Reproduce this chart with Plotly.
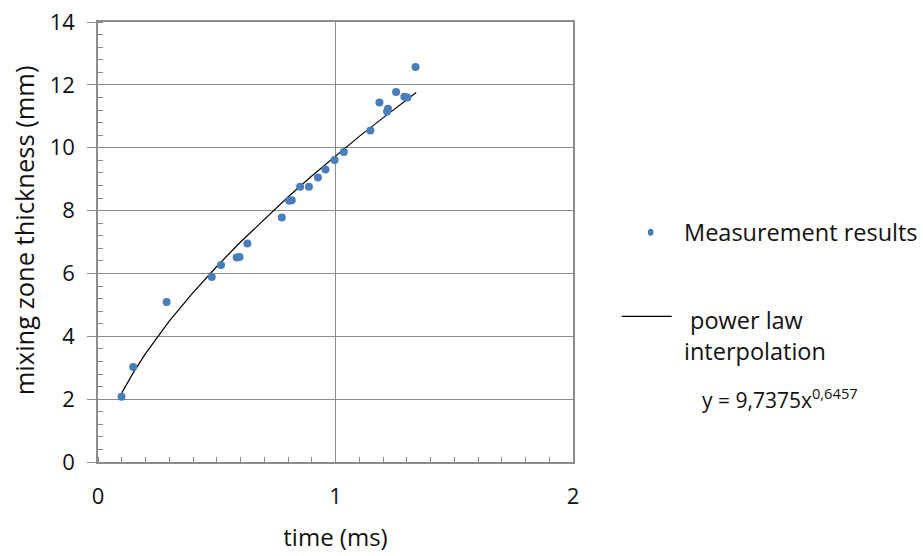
import plotly.graph_objects as go

# Measurement results (time in ms, mixing zone thickness in mm)
time_ms = [0.099, 0.148, 0.289, 0.479, 0.518, 0.584, 0.596, 0.629, 0.774,
           0.805, 0.816, 0.851, 0.888, 0.926, 0.958, 0.996, 1.035, 1.147,
           1.185, 1.217, 1.221, 1.255, 1.290, 1.303, 1.337]
thickness_mm = [2.08, 3.02, 5.09, 5.89, 6.27, 6.51, 6.52, 6.95, 7.78,
                8.31, 8.33, 8.76, 8.76, 9.05, 9.31, 9.61, 9.86, 10.55,
                11.44, 11.15, 11.24, 11.77, 11.62, 11.60, 12.57]

# Power-law interpolation curve
fit_time = [0.10, 0.15, 0.20, 0.30, 0.40, 0.50, 0.60, 0.70, 0.80, 0.90,
            1.00, 1.10, 1.20, 1.34]
fit_thickness = [2.20, 2.86, 3.45, 4.48, 5.39, 6.22, 7.00, 7.73, 8.43, 9.10,
                 9.74, 10.36, 10.95, 11.76]

x_ticks = [0, 1, 2]
y_ticks = [0, 2, 4, 6, 8, 10, 12, 14]

FONT = "Open Sans"
GRID = "#8c8c8c"
TXT = "#111111"

fig = go.Figure()
fig.add_trace(go.Scatter(x=fit_time, y=fit_thickness, mode="lines",
                         line=dict(color="black", width=1.2),
                         showlegend=False))
fig.add_trace(go.Scatter(x=time_ms, y=thickness_mm, mode="markers",
                         marker=dict(color="#4a7ebb", size=8),
                         showlegend=False))

fig.update_layout(
    width=923, height=556,
    margin=dict(l=98, r=350, t=22, b=94),
    paper_bgcolor="white", plot_bgcolor="white",
    font=dict(family=FONT, color=TXT, size=22),
    xaxis=dict(range=[0, 2], tickvals=x_ticks, showgrid=True,
               gridcolor=GRID, gridwidth=1, showline=True, linecolor=GRID,
               linewidth=1.5, mirror=True, ticks="", zeroline=False,
               automargin=False,
               tickfont=dict(size=22, color=TXT),
               ticklabelstandoff=14,
               minor=dict(dtick=0.1, ticks="inside", ticklen=5,
                          tickcolor=GRID, showgrid=False),
               title=dict(text="time (ms)", font=dict(size=24, color=TXT),
                          standoff=20)),
    yaxis=dict(range=[0, 14], tickvals=y_ticks, showgrid=True,
               gridcolor=GRID, gridwidth=1, showline=True, linecolor=GRID,
               linewidth=1.5, mirror=True, ticks="outside", ticklen=9,
               tickcolor=GRID, zeroline=False, automargin=False,
               tickfont=dict(size=22, color=TXT),
               ticklabelstandoff=8,
               minor=dict(dtick=0.4, ticks="inside", ticklen=5,
                          tickcolor=GRID, showgrid=False)),
)

# Y-axis title (placed slightly above the plot centre, as in the original)
fig.add_annotation(xref="paper", yref="paper", x=-0.157, y=0.5277,
                   xanchor="center", yanchor="middle", showarrow=False,
                   textangle=-90, text="mixing zone thickness (mm)",
                   font=dict(size=25.5, color=TXT))

# Legend drawn to the right of the plot area
fig.add_shape(type="circle", xref="paper", yref="paper",
              x0=1.1575, x1=1.1695, y0=0.514, y1=0.53,
              fillcolor="#4a7ebb", line=dict(width=0))
fig.add_annotation(xref="paper", yref="paper", x=1.229, y=0.522,
                   xanchor="left", yanchor="middle", showarrow=False,
                   text="Measurement results", font=dict(size=23.5, color=TXT))
fig.add_shape(type="line", xref="paper", yref="paper",
              x0=1.1026, x1=1.2079, y0=0.331, y1=0.331,
              line=dict(color="black", width=1.2))
fig.add_annotation(xref="paper", yref="paper", x=1.2416, y=0.322,
                   xanchor="left", yanchor="middle", showarrow=False,
                   text="power law", font=dict(size=23.5, color=TXT))
fig.add_annotation(xref="paper", yref="paper", x=1.229, y=0.2516,
                   xanchor="left", yanchor="middle", showarrow=False,
                   text="interpolation", font=dict(size=23.5, color=TXT))
fig.add_annotation(xref="paper", yref="paper", x=1.2668, y=0.1448,
                   xanchor="left", yanchor="middle", showarrow=False,
                   text="y = 9,7375x<sup>0,6457</sup>",
                   font=dict(size=21, color=TXT))

fig.write_html("out.html")
